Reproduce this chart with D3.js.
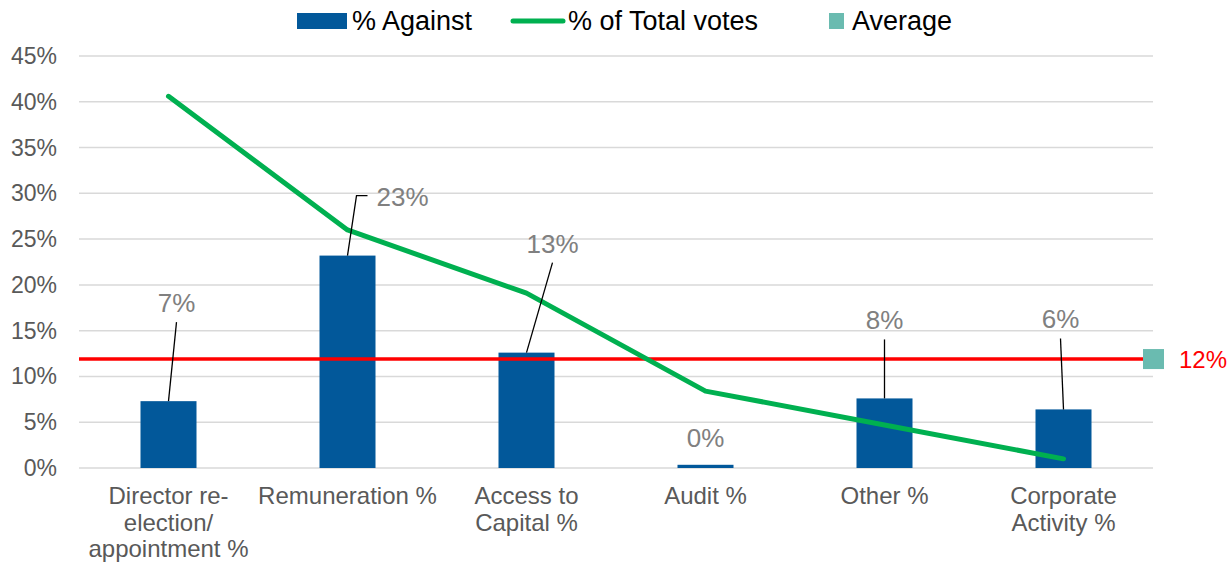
<!DOCTYPE html>
<html>
<head>
<meta charset="utf-8">
<script src="https://cdn.jsdelivr.net/npm/d3@7"></script>
<style>
  body { margin: 0; background: #fff; }
  svg { font-family: "Liberation Sans", Arial, sans-serif; }
</style>
</head>
<body>
<div id="plot1"></div>
<script>
// data
var categories = ["Director re-election/ appointment %", "Remuneration %", "Access to Capital %", "Audit %", "Other %", "Corporate Activity %"];
var categoryLines = [["Director re-", "election/", "appointment %"], ["Remuneration %"], ["Access to", "Capital %"], ["Audit %"], ["Other %"], ["Corporate", "Activity %"]];
var againstPct = [7.3, 23.2, 12.6, 0.35, 7.6, 6.4];
var totalVotesPct = [40.6, 26.0, 19.1, 8.4, 4.7, 1.0];
var averagePct = 11.9;
var yTicks = [0, 5, 10, 15, 20, 25, 30, 35, 40, 45];

// label placement (moved by hand in the original), offsets from bar top
var labelOffsets = [
    {dx: 8, dy: -89, elbow: false},
    {dx: 55, dy: -50, elbow: true},
    {dx: 26, dy: -100, elbow: false},
    {dx: 0, dy: -18, leader: false},
    {dx: 0, dy: -69, elbow: false},
    {dx: -3, dy: -81, elbow: false}
];

var blue = "#02589a";
var green = "#00b050";
var teal = "#6abbb0";
var red = "#ff0000";

var W = 1227, H = 563;
var margin = {t: 56, r: 74, b: 95, l: 79};

var svg = d3.select('#plot1')
    .append('svg')
    .attr('width', W)
    .attr('height', H);

var x = d3.scalePoint().domain(categories).range([margin.l, W - margin.r]).padding(0.5);
var y = d3.scaleLinear().domain([0, 45]).range([H - margin.b, margin.t]);
var barW = 56;

// gridlines
svg.append('g').selectAll('line')
    .data(yTicks)
    .enter().append('line')
    .attr('x1', margin.l).attr('x2', W - margin.r)
    .attr('y1', function(d){return y(d)}).attr('y2', function(d){return y(d)})
    .attr('stroke', '#d9d9d9').attr('stroke-width', 1.5);

// y axis labels
svg.append('g').selectAll('text')
    .data(yTicks)
    .enter().append('text')
    .attr('x', 57)
    .attr('y', function(d){return y(d) + 8})
    .attr('text-anchor', 'end')
    .attr('font-size', 23)
    .attr('fill', '#595959')
    .text(function(d){return d + '%'});

// category labels
var catG = svg.append('g').selectAll('text')
    .data(categories)
    .enter().append('text')
    .attr('text-anchor', 'middle')
    .attr('font-size', 24)
    .attr('fill', '#595959');
catG.selectAll('tspan')
    .data(function(d, i){return categoryLines[i].map(function(s){return {s: s, c: d}})})
    .enter().append('tspan')
    .attr('x', function(d){return x(d.c)})
    .attr('y', function(d, j){return 504 + j * 26.5})
    .text(function(d){return d.s});

// bars
svg.append('g').selectAll('rect')
    .data(againstPct)
    .enter().append('rect')
    .attr('x', function(d, i){return x(categories[i]) - barW / 2})
    .attr('y', function(d){return y(d)})
    .attr('width', barW)
    .attr('height', function(d){return y(0) - y(d)})
    .attr('fill', blue);

// average line with marker
var yAvg = y(averagePct);
svg.append('line')
    .attr('x1', margin.l).attr('x2', W - margin.r)
    .attr('y1', yAvg).attr('y2', yAvg)
    .attr('stroke', red).attr('stroke-width', 3.5);
svg.append('rect')
    .attr('x', W - margin.r - 10).attr('y', yAvg - 10)
    .attr('width', 21).attr('height', 20)
    .attr('fill', teal);
svg.append('text')
    .attr('x', 1179).attr('y', yAvg + 9)
    .attr('font-size', 24)
    .attr('fill', red)
    .text(Math.round(averagePct) + '%');

// % of total votes line
var line = d3.line()
    .x(function(d, i){return x(categories[i])})
    .y(function(d){return y(d)});
svg.append('path')
    .datum(totalVotesPct)
    .attr('d', line)
    .attr('fill', 'none')
    .attr('stroke', green)
    .attr('stroke-width', 5)
    .attr('stroke-linecap', 'round')
    .attr('stroke-linejoin', 'round');

// data labels with leader lines
againstPct.forEach(function(d, i){
    var bx = x(categories[i]), by = y(d);
    var o = labelOffsets[i];
    var lx = bx + o.dx, ly = by + o.dy;
    if (o.leader !== false) {
        var pts;
        if (o.elbow) {
            pts = [[bx, by], [bx + 9, ly - 10], [bx + 20, ly - 10]];
        } else {
            pts = [[bx, by], [lx, ly + 10]];
        }
        svg.append('path')
            .attr('d', d3.line()(pts))
            .attr('fill', 'none')
            .attr('stroke', '#000')
            .attr('stroke-width', 1.3);
    }
    svg.append('text')
        .attr('x', lx).attr('y', ly)
        .attr('text-anchor', 'middle')
        .attr('font-size', 26)
        .attr('fill', '#808080')
        .text(Math.round(d) + '%');
});

// legend
var lg = svg.append('g').attr('font-size', 27).attr('fill', '#000');
lg.append('rect').attr('x', 297).attr('y', 13).attr('width', 50).attr('height', 16).attr('fill', blue);
lg.append('text').attr('x', 352).attr('y', 30).text('% Against');
lg.append('line').attr('x1', 513).attr('x2', 563).attr('y1', 21).attr('y2', 21)
    .attr('stroke', green).attr('stroke-width', 5).attr('stroke-linecap', 'round');
lg.append('text').attr('x', 568).attr('y', 30).text('% of Total votes');
lg.append('rect').attr('x', 829).attr('y', 13).attr('width', 15).attr('height', 16).attr('fill', teal);
lg.append('text').attr('x', 852).attr('y', 30).text('Average');
</script>
</body>
</html>
